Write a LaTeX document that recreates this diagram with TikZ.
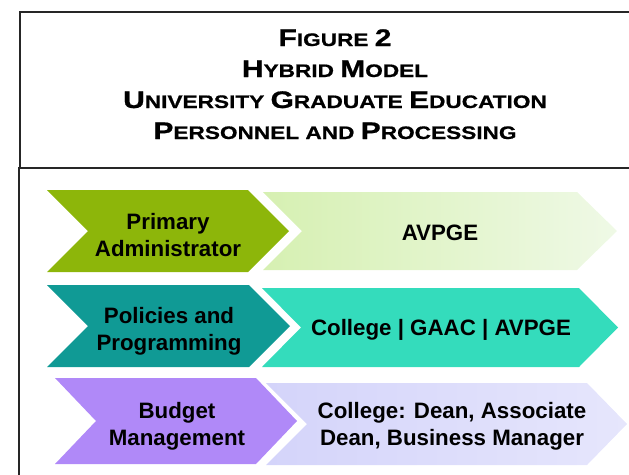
\documentclass[tikz,border=0pt]{standalone}
\usepackage{fontspec}
\setmainfont{Liberation Sans}
\newfontfamily\titlefont[FakeStretch=1.25,FakeBold=0.8]{Liberation Sans}
\definecolor{oliveleft}{HTML}{8DB60A}
\definecolor{olivelightA}{HTML}{D6F0B2}
\definecolor{olivelightB}{HTML}{EFF9E6}
\definecolor{tealleft}{HTML}{109A95}
\definecolor{tealright}{HTML}{34DCBC}
\definecolor{purpleleft}{HTML}{B089F8}
\definecolor{purplelightA}{HTML}{D4D4FA}
\definecolor{purplelightB}{HTML}{E6E6FC}
\newcommand\smallcap[2]{{\fontsize{24}{26}\selectfont #1}{\fontsize{18.1}{20}\selectfont #2}}
\begin{document}
\begin{tikzpicture}[x=1pt,y=-1pt,
  frame/.style={draw=black!85,line width=2.5pt},
  titleline/.style={font=\titlefont\bfseries\fontsize{18.1}{20}\selectfont,inner sep=0pt,anchor=base},
  rowlabel/.style={font=\bfseries\fontsize{22.3}{27}\selectfont,align=center,inner sep=0pt,anchor=base}]
\useasboundingbox (0,0) rectangle (629,474);
% frame: heading box and body box
\draw[frame] (20,12) rectangle (660,168);
\draw[frame] (19,168) rectangle (660,500);
% heading
\node[titleline] (fig) at (335,46) {\smallcap{F}{IGURE} \smallcap{2}{}};
\node[titleline] (model) at (335,77) {\smallcap{H}{YBRID} \smallcap{M}{ODEL}};
\node[titleline] (univ) at (335,108) {\smallcap{U}{NIVERSITY} \smallcap{G}{RADUATE} \smallcap{E}{DUCATION}};
\node[titleline] (pers) at (335,139) {\smallcap{P}{ERSONNEL} \smallcap{}{AND} \smallcap{P}{ROCESSING}};
% row 1
\fill[oliveleft] (47,190) -- (248,190) -- (289,231) -- (248,272) -- (47,272) -- (88,231) -- cycle;
\shade[left color=olivelightA,right color=olivelightB] (263,192) -- (577,192) -- (617,231) -- (577,270) -- (263,270) -- (302,231) -- cycle;
\node[rowlabel] (admin) at (168,256) {Primary\\Administrator};
\node[rowlabel] (avpge) at (440,240) {AVPGE};
% row 2
\fill[tealleft] (47,285) -- (249,285) -- (290,326) -- (249,367) -- (47,367) -- (88,326) -- cycle;
\fill[tealright] (262,288) -- (579,288) -- (618,327.5) -- (579,367) -- (262,367) -- (301,327.5) -- cycle;
\node[rowlabel] (policy) at (169,350) {Policies and\\Programming};
\node[rowlabel] (gaac) at (441,335) {College | GAAC | AVPGE};
% row 3
\fill[purpleleft] (55,378) -- (256,378) -- (297,421) -- (256,464) -- (55,464) -- (96,421) -- cycle;
\shade[left color=purplelightA,right color=purplelightB] (266,383) -- (587,383) -- (627,424) -- (587,465) -- (266,465) -- (307,424) -- cycle;
\node[rowlabel] (budget) at (177,445) {Budget\\Management};
\node[rowlabel] (dean) at (452,445) {College: Dean, Associate\\Dean, Business Manager};
\end{tikzpicture}
\end{document}
